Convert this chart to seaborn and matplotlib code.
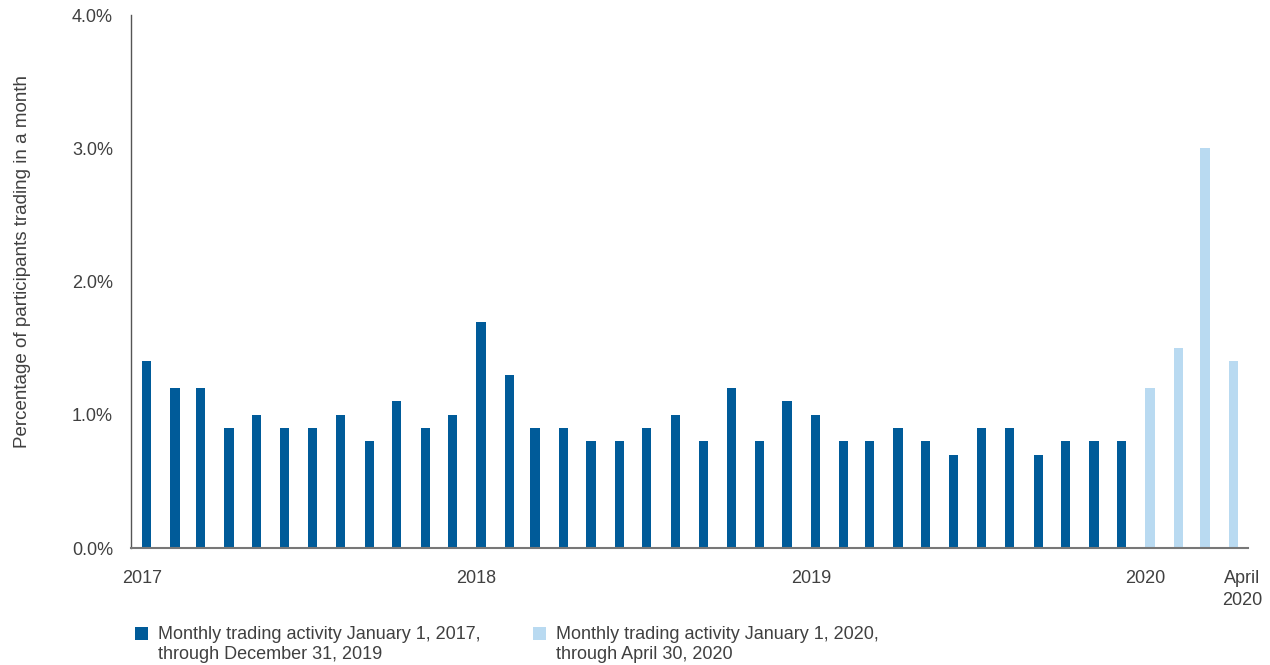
import numpy as np
import pandas as pd
import matplotlib
matplotlib.use("Agg")
import matplotlib.pyplot as plt
import matplotlib.dates as mdates
import matplotlib.transforms as mtransforms
from matplotlib.patches import Rectangle
from matplotlib.legend_handler import HandlerPatch
import seaborn as sns

# Share of participants trading in each month (%)
values_2017_2019 = [
    1.4, 1.2, 1.2, 0.9, 1.0, 0.9, 0.9, 1.0, 0.8, 1.1, 0.9, 1.0,   # 2017
    1.7, 1.3, 0.9, 0.9, 0.8, 0.8, 0.9, 1.0, 0.8, 1.2, 0.8, 1.1,   # 2018
    1.0, 0.8, 0.8, 0.9, 0.8, 0.7, 0.9, 0.9, 0.7, 0.8, 0.8, 0.8,   # 2019
]
values_2020 = [1.2, 1.5, 3.0, 1.4]  # Jan - Apr 2020

months_2017_2019 = pd.date_range("2017-01-01", periods=len(values_2017_2019), freq="MS")
months_2020 = pd.date_range("2020-01-01", periods=len(values_2020), freq="MS")

series_labels = [
    "Monthly trading activity January 1, 2017,\nthrough December 31, 2019",
    "Monthly trading activity January 1, 2020,\nthrough April 30, 2020",
]
tick_dates = ["2017-01-01", "2018-01-01", "2019-01-01", "2020-01-01", "2020-04-01"]
tick_labels = ["2017", "2018", "2019", "2020", "April\n2020"]
y_ticks = [0.0, 1.0, 2.0, 3.0, 4.0]

dark_blue = "#005B99"
light_blue = "#B9DAF1"
text_color = "#404040"

BAR_DAYS = 10  # bar width in days; each bar starts on the first of its month

df = pd.DataFrame({
    "month": list(months_2017_2019) + list(months_2020),
    "value": values_2017_2019 + values_2020,
    "period": [series_labels[0]] * len(values_2017_2019) + [series_labels[1]] * len(values_2020),
})
df["pos"] = mdates.date2num(df["month"]) + BAR_DAYS / 2

sns.set_theme(style="white")
plt.rcParams["font.family"] = ["Liberation Sans", "DejaVu Sans"]

fig = plt.figure(figsize=(12.7, 6.65), dpi=100)
ax = fig.add_axes([0.1031, 0.1759, 0.8796, 0.8015])

min_gap = np.min(np.diff(np.sort(df["pos"].unique())))
sns.barplot(
    data=df, x="pos", y="value", hue="period",
    palette=[dark_blue, light_blue], hue_order=series_labels,
    native_scale=True, dodge=False, width=BAR_DAYS / min_gap,
    errorbar=None, saturation=1, ax=ax, legend=False,
    linewidth=0, edgecolor="none",
)

ax.set_xlim(mdates.date2num(pd.Timestamp("2016-12-20")), mdates.date2num(pd.Timestamp("2020-04-22")))
ax.set_ylim(0, 4.0)

ax.set_yticks(y_ticks)
ax.set_yticklabels([f"{v:.1f}%" for v in y_ticks])
ax.set_xticks(mdates.date2num(pd.to_datetime(tick_dates)))
ax.set_xticklabels(tick_labels, linespacing=1.4)

ax.tick_params(axis="both", length=0, labelsize=13, colors=text_color)
ax.tick_params(axis="y", pad=13)
ax.tick_params(axis="x", pad=15.5)
# nudge the final "April 2020" label to sit right of its bar
last = ax.get_xticklabels()[-1]
last.set_transform(last.get_transform() + mtransforms.ScaledTranslation(13 / 100, 0, fig.dpi_scale_trans))

ax.set_xlabel("")
ax.set_ylabel("Percentage of participants trading in a month", fontsize=13.5, color=text_color)
ax.yaxis.set_label_coords(-0.0895, 0.537)

for side in ("top", "right"):
    ax.spines[side].set_visible(False)
ax.spines["left"].set_color("#555555")
ax.spines["bottom"].set_color("#777777")
ax.spines["left"].set_linewidth(1.0)
ax.spines["bottom"].set_linewidth(1.5)
ax.grid(False)


def square_top(legend, orig_handle, xdescent, ydescent, width, height, fontsize):
    # keep the swatch level with the first line of a two-line label
    return Rectangle((-xdescent, -ydescent + 0.62 * fontsize), width, height)


handles = [Rectangle((0, 0), 1, 1, facecolor=c, edgecolor="none") for c in (dark_blue, light_blue)]
fig.legend(
    handles, series_labels, loc="upper left", bbox_to_anchor=(0.1063, 0.0586),
    ncol=2, frameon=False, fontsize=13, labelcolor=text_color,
    handlelength=0.7, handleheight=0.7, handletextpad=0.55, columnspacing=2.95,
    borderaxespad=0, borderpad=0, labelspacing=0.3,
    handler_map={Rectangle: HandlerPatch(patch_func=square_top)},
)

fig.savefig("out.png", dpi=100, facecolor="white")
